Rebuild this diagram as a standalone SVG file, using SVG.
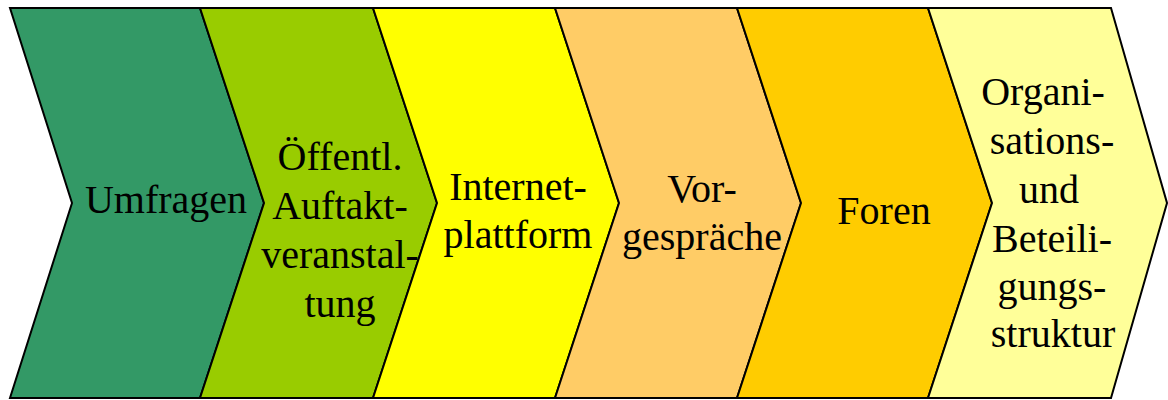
<svg xmlns="http://www.w3.org/2000/svg" width="1168" height="400" viewBox="0 0 1168 400">
<style>
.chev{stroke:#000;stroke-width:2;stroke-linejoin:miter}
.t{font-family:'Liberation Serif','DejaVu Serif',serif;font-size:40px;fill:#000;text-anchor:middle}
</style>
<rect width="1168" height="400" fill="#fff"/>
<g id="n1">
<polygon class="chev" fill="#339966" points="10,8 200,8 264,203 200,398 10,398 72,203"/>
<text class="t" x="166" y="213">Umfragen</text>
</g>
<g id="n2">
<polygon class="chev" fill="#99CC00" points="200,8 373,8 437,203 373,398 200,398 264,203"/>
<text class="t" x="340" y="170">Öffentl.</text>
<text class="t" x="340" y="219">Auftakt-</text>
<text class="t" x="340" y="268">veranstal-</text>
<text class="t" x="340" y="317">tung</text>
</g>
<g id="n3">
<polygon class="chev" fill="#FFFF00" points="373,8 555,8 619,203 555,398 373,398 437,203"/>
<text class="t" x="518" y="200">Internet-</text>
<text class="t" x="518" y="248">plattform</text>
</g>
<g id="n4">
<polygon class="chev" fill="#FFCC66" points="555,8 737,8 801,203 737,398 555,398 619,203"/>
<text class="t" x="702" y="202">Vor-</text>
<text class="t" x="702" y="250">gespräche</text>
</g>
<g id="n5">
<polygon class="chev" fill="#FFCC00" points="737,8 928,8 992,203 928,398 737,398 801,203"/>
<text class="t" x="884" y="224">Foren</text>
</g>
<g id="n6">
<polygon class="chev" fill="#FFFF99" points="928,8 1111,8 1167,203 1111,398 928,398 992,203"/>
<text class="t" x="1043" y="105">Organi-</text>
<text class="t" x="1052" y="154">sations-</text>
<text class="t" x="1049" y="203">und</text>
<text class="t" x="1052" y="252">Beteili-</text>
<text class="t" x="1052" y="300">gungs-</text>
<text class="t" x="1053" y="347">struktur</text>
</g>
<g id="connectors"></g>
</svg>
